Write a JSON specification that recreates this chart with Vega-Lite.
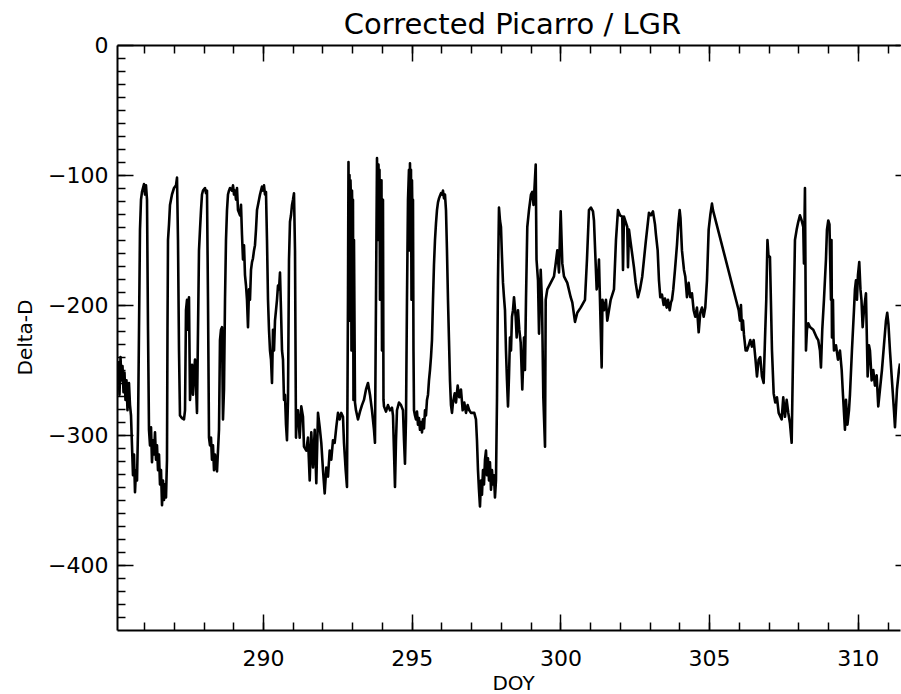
{
  "$schema": "https://vega.github.io/schema/vega-lite/v6.json",
  "width": 783,
  "height": 585,
  "autosize": {"type": "none"},
  "padding": {"left": 117, "top": 45, "right": 1, "bottom": 64},
  "background": "white",
  "title": {"text": "Corrected Picarro / LGR", "font": "DejaVu Sans", "fontSize": 29, "fontWeight": "normal", "color": "black", "anchor": "middle", "frame": "group", "orient": "top", "baseline": "alphabetic", "offset": 8, "dx": 4, "dy": 37},
  "config": {"view": {"stroke": null}, "axis": {"labelFont": "DejaVu Sans", "titleFont": "DejaVu Sans", "labelColor": "black", "titleColor": "black", "tickColor": "black", "domainColor": "black", "grid": false, "labelOverlap": false, "labelFlush": false}},
  "data": {"values": [
{"doy":285.107,"dD":-262},{"doy":285.140,"dD":-244},{"doy":285.174,"dD":-269},{"doy":285.208,"dD":-240},{"doy":285.241,"dD":-258},{"doy":285.275,"dD":-247},{"doy":285.309,"dD":-267},{"doy":285.342,"dD":-252},{"doy":285.376,"dD":-273},{"doy":285.409,"dD":-258},{"doy":285.443,"dD":-281},{"doy":285.460,"dD":-269},{"doy":285.493,"dD":-260},{"doy":285.527,"dD":-277},{"doy":285.561,"dD":-285},{"doy":285.594,"dD":-308},{"doy":285.628,"dD":-331},{"doy":285.662,"dD":-315},{"doy":285.695,"dD":-344},{"doy":285.729,"dD":-327},{"doy":285.763,"dD":-335},{"doy":285.796,"dD":-296},{"doy":285.830,"dD":-219},{"doy":285.863,"dD":-142},{"doy":285.897,"dD":-119},{"doy":285.931,"dD":-113},{"doy":285.964,"dD":-110},{"doy":285.998,"dD":-107},{"doy":286.032,"dD":-115},{"doy":286.065,"dD":-108},{"doy":286.099,"dD":-119},{"doy":286.133,"dD":-219},{"doy":286.166,"dD":-296},
{"doy":286.200,"dD":-308},{"doy":286.234,"dD":-294},{"doy":286.267,"dD":-321},{"doy":286.301,"dD":-304},{"doy":286.334,"dD":-315},{"doy":286.368,"dD":-298},{"doy":286.402,"dD":-319},{"doy":286.435,"dD":-308},{"doy":286.469,"dD":-327},{"doy":286.503,"dD":-315},{"doy":286.536,"dD":-338},{"doy":286.570,"dD":-327},{"doy":286.604,"dD":-354},{"doy":286.637,"dD":-335},{"doy":286.671,"dD":-350},{"doy":286.704,"dD":-338},{"doy":286.738,"dD":-348},{"doy":286.771,"dD":-319},
{"doy":286.788,"dD":-219},{"doy":286.805,"dD":-150},{"doy":286.839,"dD":-138},{"doy":286.872,"dD":-123},{"doy":286.939,"dD":-115},{"doy":287.007,"dD":-110},{"doy":287.074,"dD":-108},{"doy":287.108,"dD":-102},{"doy":287.141,"dD":-150},{"doy":287.175,"dD":-235},{"doy":287.208,"dD":-285},{"doy":287.276,"dD":-287},{"doy":287.343,"dD":-288},{"doy":287.377,"dD":-281},{"doy":287.410,"dD":-204},{"doy":287.444,"dD":-196},{"doy":287.477,"dD":-219},{"doy":287.511,"dD":-194},{"doy":287.545,"dD":-273},{"doy":287.578,"dD":-258},{"doy":287.612,"dD":-246},{"doy":287.646,"dD":-269},{"doy":287.679,"dD":-252},{"doy":287.713,"dD":-242},{"doy":287.747,"dD":-262},{"doy":287.780,"dD":-283},{"doy":287.814,"dD":-219},{"doy":287.847,"dD":-158},{"doy":287.881,"dD":-142},{"doy":287.915,"dD":-127},{"doy":287.948,"dD":-115},{"doy":287.982,"dD":-112},{"doy":288.049,"dD":-110},{"doy":288.083,"dD":-114},{"doy":288.116,"dD":-112},{"doy":288.150,"dD":-196},{"doy":288.184,"dD":-302},
{"doy":288.217,"dD":-308},{"doy":288.251,"dD":-302},{"doy":288.284,"dD":-319},{"doy":288.318,"dD":-308},{"doy":288.352,"dD":-327},{"doy":288.385,"dD":-315},{"doy":288.419,"dD":-323},{"doy":288.453,"dD":-328},{"doy":288.486,"dD":-312},{"doy":288.520,"dD":-296},{"doy":288.553,"dD":-227},{"doy":288.587,"dD":-219},{"doy":288.621,"dD":-217},{"doy":288.654,"dD":-288},{"doy":288.688,"dD":-265},{"doy":288.722,"dD":-196},{"doy":288.755,"dD":-150},{"doy":288.789,"dD":-127},{"doy":288.822,"dD":-115},{"doy":288.856,"dD":-112},{"doy":288.890,"dD":-110},{"doy":288.957,"dD":-112},{"doy":288.991,"dD":-108},{"doy":289.024,"dD":-115},{"doy":289.058,"dD":-112},{"doy":289.092,"dD":-119},{"doy":289.125,"dD":-110},{"doy":289.159,"dD":-127},
{"doy":289.226,"dD":-131},{"doy":289.260,"dD":-123},{"doy":289.293,"dD":-146},{"doy":289.327,"dD":-165},{"doy":289.361,"dD":-154},{"doy":289.394,"dD":-177},{"doy":289.428,"dD":-185},{"doy":289.461,"dD":-196},{"doy":289.495,"dD":-217},{"doy":289.529,"dD":-188},{"doy":289.562,"dD":-196},{"doy":289.596,"dD":-173},{"doy":289.630,"dD":-167},{"doy":289.663,"dD":-164},{"doy":289.697,"dD":-158},{"doy":289.730,"dD":-154},{"doy":289.764,"dD":-142},{"doy":289.798,"dD":-127},{"doy":289.831,"dD":-123},{"doy":289.865,"dD":-119},{"doy":289.899,"dD":-115},{"doy":289.932,"dD":-112},{"doy":289.966,"dD":-109},{"doy":290.000,"dD":-112},{"doy":290.033,"dD":-108},{"doy":290.067,"dD":-115},{"doy":290.100,"dD":-113},{"doy":290.134,"dD":-150},{"doy":290.168,"dD":-196},{"doy":290.201,"dD":-219},{"doy":290.235,"dD":-235},{"doy":290.269,"dD":-242},{"doy":290.302,"dD":-260},{"doy":290.336,"dD":-219},{"doy":290.370,"dD":-235},{"doy":290.403,"dD":-212},{"doy":290.437,"dD":-204},{"doy":290.470,"dD":-196},{"doy":290.504,"dD":-185},{"doy":290.538,"dD":-188},{"doy":290.571,"dD":-175},{"doy":290.605,"dD":-204},{"doy":290.639,"dD":-235},{"doy":290.672,"dD":-242},{"doy":290.706,"dD":-273},{"doy":290.739,"dD":-269},{"doy":290.773,"dD":-292},{"doy":290.806,"dD":-304},{"doy":290.840,"dD":-273},{"doy":290.874,"dD":-165},{"doy":290.907,"dD":-136},{"doy":290.941,"dD":-131},{"doy":290.975,"dD":-123},{"doy":291.008,"dD":-119},{"doy":291.042,"dD":-114},{"doy":291.076,"dD":-158},{"doy":291.109,"dD":-302},
{"doy":291.143,"dD":-281},{"doy":291.176,"dD":-281},{"doy":291.233,"dD":-302},{"doy":291.287,"dD":-278},{"doy":291.344,"dD":-286},{"doy":291.378,"dD":-309},{"doy":291.455,"dD":-312},{"doy":291.512,"dD":-302},{"doy":291.570,"dD":-335},{"doy":291.623,"dD":-298},{"doy":291.681,"dD":-325},{"doy":291.738,"dD":-296},{"doy":291.792,"dD":-337},{"doy":291.849,"dD":-283},{"doy":291.906,"dD":-294},{"doy":291.960,"dD":-306},{"doy":292.017,"dD":-327},{"doy":292.074,"dD":-345},{"doy":292.128,"dD":-325},{"doy":292.185,"dD":-332},{"doy":292.242,"dD":-312},{"doy":292.296,"dD":-319},{"doy":292.353,"dD":-304},{"doy":292.410,"dD":-306},{"doy":292.464,"dD":-294},{"doy":292.521,"dD":-283},{"doy":292.578,"dD":-288},{"doy":292.632,"dD":-283},{"doy":292.689,"dD":-286},{"doy":292.723,"dD":-306},{"doy":292.780,"dD":-327},{"doy":292.824,"dD":-340},
{"doy":292.857,"dD":-196},{"doy":292.874,"dD":-90},{"doy":292.891,"dD":-158},{"doy":292.908,"dD":-100},{"doy":292.925,"dD":-212},{"doy":292.941,"dD":-104},{"doy":292.958,"dD":-119},{"doy":292.975,"dD":-235},{"doy":292.992,"dD":-112},{"doy":293.009,"dD":-135},{"doy":293.025,"dD":-119},{"doy":293.042,"dD":-273},{"doy":293.059,"dD":-150},{"doy":293.093,"dD":-275},{"doy":293.126,"dD":-281},{"doy":293.194,"dD":-288},{"doy":293.261,"dD":-282},{"doy":293.328,"dD":-277},{"doy":293.395,"dD":-273},{"doy":293.463,"dD":-265},{"doy":293.530,"dD":-260},{"doy":293.597,"dD":-269},{"doy":293.664,"dD":-281},{"doy":293.732,"dD":-296},{"doy":293.765,"dD":-306},{"doy":293.799,"dD":-196},{"doy":293.833,"dD":-87},{"doy":293.866,"dD":-150},{"doy":293.883,"dD":-92},{"doy":293.900,"dD":-119},{"doy":293.917,"dD":-96},{"doy":293.933,"dD":-196},{"doy":293.950,"dD":-112},{"doy":293.967,"dD":-158},{"doy":293.984,"dD":-104},{"doy":294.001,"dD":-235},{"doy":294.034,"dD":-119},{"doy":294.051,"dD":-273},{"doy":294.068,"dD":-278},
{"doy":294.135,"dD":-282},{"doy":294.202,"dD":-277},{"doy":294.270,"dD":-281},{"doy":294.337,"dD":-279},{"doy":294.371,"dD":-285},{"doy":294.404,"dD":-312},{"doy":294.438,"dD":-340},{"doy":294.472,"dD":-304},{"doy":294.505,"dD":-281},{"doy":294.572,"dD":-275},{"doy":294.640,"dD":-277},{"doy":294.707,"dD":-281},{"doy":294.741,"dD":-304},{"doy":294.774,"dD":-322},{"doy":294.808,"dD":-288},{"doy":294.841,"dD":-196},{"doy":294.875,"dD":-119},{"doy":294.908,"dD":-96},{"doy":294.925,"dD":-158},{"doy":294.942,"dD":-91},{"doy":294.959,"dD":-127},{"doy":294.976,"dD":-96},{"doy":294.993,"dD":-196},{"doy":295.009,"dD":-104},{"doy":295.026,"dD":-135},{"doy":295.043,"dD":-119},{"doy":295.060,"dD":-235},{"doy":295.077,"dD":-281},
{"doy":295.110,"dD":-285},{"doy":295.144,"dD":-288},{"doy":295.178,"dD":-282},{"doy":295.211,"dD":-292},{"doy":295.245,"dD":-287},{"doy":295.279,"dD":-296},{"doy":295.312,"dD":-290},{"doy":295.346,"dD":-298},{"doy":295.379,"dD":-288},{"doy":295.413,"dD":-295},{"doy":295.447,"dD":-281},{"doy":295.480,"dD":-285},{"doy":295.514,"dD":-273},{"doy":295.548,"dD":-269},{"doy":295.581,"dD":-258},{"doy":295.615,"dD":-250},{"doy":295.649,"dD":-240},{"doy":295.682,"dD":-227},{"doy":295.716,"dD":-196},{"doy":295.749,"dD":-169},{"doy":295.783,"dD":-150},{"doy":295.817,"dD":-137},{"doy":295.850,"dD":-127},{"doy":295.884,"dD":-121},{"doy":295.918,"dD":-118},{"doy":295.951,"dD":-116},{"doy":295.985,"dD":-114},{"doy":296.019,"dD":-115},{"doy":296.052,"dD":-112},{"doy":296.086,"dD":-118},{"doy":296.119,"dD":-115},{"doy":296.153,"dD":-127},{"doy":296.186,"dD":-158},{"doy":296.220,"dD":-196},{"doy":296.254,"dD":-227},{"doy":296.287,"dD":-258},{"doy":296.321,"dD":-277},{"doy":296.355,"dD":-283},
{"doy":296.388,"dD":-275},{"doy":296.445,"dD":-268},{"doy":296.489,"dD":-275},{"doy":296.546,"dD":-262},{"doy":296.600,"dD":-271},{"doy":296.657,"dD":-265},{"doy":296.714,"dD":-281},{"doy":296.768,"dD":-275},{"doy":296.825,"dD":-283},{"doy":296.882,"dD":-277},{"doy":296.936,"dD":-281},{"doy":296.993,"dD":-283},{"doy":297.104,"dD":-283},{"doy":297.161,"dD":-288},{"doy":297.195,"dD":-304},{"doy":297.229,"dD":-327},{"doy":297.262,"dD":-342},{"doy":297.296,"dD":-355},{"doy":297.330,"dD":-335},
{"doy":297.363,"dD":-346},{"doy":297.397,"dD":-327},{"doy":297.431,"dD":-338},{"doy":297.464,"dD":-319},{"doy":297.498,"dD":-312},{"doy":297.531,"dD":-331},{"doy":297.565,"dD":-318},{"doy":297.599,"dD":-335},{"doy":297.632,"dD":-321},{"doy":297.666,"dD":-342},{"doy":297.700,"dD":-327},{"doy":297.733,"dD":-338},{"doy":297.767,"dD":-331},{"doy":297.800,"dD":-348},{"doy":297.834,"dD":-335},
{"doy":297.868,"dD":-273},{"doy":297.901,"dD":-181},{"doy":297.935,"dD":-125},{"doy":297.969,"dD":-135},{"doy":298.002,"dD":-140},{"doy":298.036,"dD":-163},{"doy":298.070,"dD":-183},{"doy":298.103,"dD":-194},{"doy":298.137,"dD":-204},{"doy":298.170,"dD":-235},{"doy":298.204,"dD":-258},{"doy":298.238,"dD":-278},{"doy":298.271,"dD":-255},{"doy":298.305,"dD":-225},{"doy":298.339,"dD":-235},{"doy":298.372,"dD":-209},{"doy":298.406,"dD":-204},{"doy":298.440,"dD":-194},
{"doy":298.496,"dD":-209},{"doy":298.530,"dD":-225},{"doy":298.574,"dD":-204},{"doy":298.618,"dD":-219},{"doy":298.665,"dD":-229},{"doy":298.719,"dD":-265},{"doy":298.776,"dD":-225},{"doy":298.809,"dD":-250},{"doy":298.843,"dD":-196},{"doy":298.887,"dD":-140},{"doy":298.944,"dD":-127},{"doy":299.011,"dD":-115},{"doy":299.055,"dD":-113},{"doy":299.096,"dD":-123},{"doy":299.129,"dD":-110},{"doy":299.170,"dD":-92},{"doy":299.197,"dD":-165},{"doy":299.247,"dD":-181},{"doy":299.281,"dD":-222},{"doy":299.338,"dD":-173},{"doy":299.382,"dD":-198},{"doy":299.426,"dD":-271},{"doy":299.483,"dD":-309},{"doy":299.506,"dD":-196},{"doy":299.560,"dD":-188},
{"doy":299.673,"dD":-183},{"doy":299.785,"dD":-178},{"doy":299.842,"dD":-168},{"doy":299.896,"dD":-158},{"doy":299.953,"dD":-175},{"doy":300.010,"dD":-128},{"doy":300.064,"dD":-168},{"doy":300.121,"dD":-178},{"doy":300.232,"dD":-183},{"doy":300.346,"dD":-194},{"doy":300.400,"dD":-198},{"doy":300.491,"dD":-213},{"doy":300.568,"dD":-206},{"doy":300.682,"dD":-202},{"doy":300.827,"dD":-196},{"doy":300.894,"dD":-165},{"doy":300.961,"dD":-127},{"doy":301.028,"dD":-125},{"doy":301.096,"dD":-128},{"doy":301.129,"dD":-135},{"doy":301.220,"dD":-188},{"doy":301.264,"dD":-181},{"doy":301.297,"dD":-165},{"doy":301.331,"dD":-196},{"doy":301.388,"dD":-248},{"doy":301.415,"dD":-196},{"doy":301.466,"dD":-204},{"doy":301.533,"dD":-196},{"doy":301.577,"dD":-212},{"doy":301.691,"dD":-196},{"doy":301.802,"dD":-188},
{"doy":301.869,"dD":-150},{"doy":301.937,"dD":-127},{"doy":302.004,"dD":-131},{"doy":302.081,"dD":-132},{"doy":302.105,"dD":-173},{"doy":302.138,"dD":-132},{"doy":302.249,"dD":-140},{"doy":302.273,"dD":-171},{"doy":302.306,"dD":-142},{"doy":302.363,"dD":-152},{"doy":302.474,"dD":-171},{"doy":302.531,"dD":-183},{"doy":302.609,"dD":-194},{"doy":302.676,"dD":-188},{"doy":302.753,"dD":-178},{"doy":302.868,"dD":-152},{"doy":302.979,"dD":-129},
{"doy":303.046,"dD":-131},{"doy":303.113,"dD":-128},{"doy":303.181,"dD":-138},{"doy":303.214,"dD":-146},{"doy":303.271,"dD":-158},{"doy":303.315,"dD":-181},{"doy":303.359,"dD":-194},{"doy":303.416,"dD":-192},{"doy":303.473,"dD":-200},{"doy":303.517,"dD":-195},{"doy":303.574,"dD":-202},{"doy":303.618,"dD":-196},{"doy":303.675,"dD":-204},{"doy":303.719,"dD":-198},{"doy":303.752,"dD":-196},{"doy":303.796,"dD":-188},{"doy":303.853,"dD":-173},{"doy":303.920,"dD":-154},{"doy":303.964,"dD":-138},{"doy":304.011,"dD":-127},{"doy":304.038,"dD":-133},{"doy":304.088,"dD":-158},{"doy":304.156,"dD":-173},{"doy":304.200,"dD":-178},{"doy":304.256,"dD":-194},{"doy":304.313,"dD":-183},{"doy":304.367,"dD":-194},{"doy":304.424,"dD":-191},{"doy":304.481,"dD":-204},{"doy":304.535,"dD":-209},{"doy":304.593,"dD":-202},{"doy":304.650,"dD":-221},{"doy":304.703,"dD":-206},{"doy":304.760,"dD":-202},{"doy":304.818,"dD":-209},{"doy":304.872,"dD":-202},{"doy":304.929,"dD":-181},{"doy":304.986,"dD":-142},{"doy":305.040,"dD":-131},{"doy":305.097,"dD":-122},{"doy":305.131,"dD":-127},
{"doy":305.995,"dD":-204},{"doy":306.039,"dD":-212},{"doy":306.072,"dD":-200},{"doy":306.106,"dD":-219},{"doy":306.140,"dD":-212},{"doy":306.173,"dD":-223},{"doy":306.230,"dD":-235},{"doy":306.274,"dD":-235},{"doy":306.331,"dD":-231},{"doy":306.385,"dD":-227},{"doy":306.442,"dD":-232},{"doy":306.499,"dD":-227},{"doy":306.553,"dD":-240},{"doy":306.610,"dD":-255},{"doy":306.667,"dD":-242},{"doy":306.721,"dD":-240},{"doy":306.778,"dD":-255},{"doy":306.835,"dD":-260},{"doy":306.879,"dD":-227},{"doy":306.923,"dD":-196},{"doy":306.963,"dD":-150},{"doy":306.997,"dD":-162},{"doy":307.047,"dD":-163},{"doy":307.115,"dD":-235},{"doy":307.172,"dD":-268},{"doy":307.226,"dD":-275},{"doy":307.283,"dD":-271},{"doy":307.340,"dD":-283},
{"doy":307.441,"dD":-288},{"doy":307.494,"dD":-271},{"doy":307.552,"dD":-286},{"doy":307.609,"dD":-273},{"doy":307.663,"dD":-283},{"doy":307.720,"dD":-291},{"doy":307.777,"dD":-306},{"doy":307.831,"dD":-227},{"doy":307.888,"dD":-150},{"doy":307.945,"dD":-142},{"doy":307.999,"dD":-136},{"doy":308.056,"dD":-131},{"doy":308.113,"dD":-135},{"doy":308.167,"dD":-140},{"doy":308.190,"dD":-168},{"doy":308.224,"dD":-110},{"doy":308.258,"dD":-235},{"doy":308.291,"dD":-219},{"doy":308.335,"dD":-214},{"doy":308.392,"dD":-217},{"doy":308.503,"dD":-219},{"doy":308.617,"dD":-225},{"doy":308.671,"dD":-227},{"doy":308.728,"dD":-235},{"doy":308.762,"dD":-248},{"doy":308.806,"dD":-219},{"doy":308.863,"dD":-196},{"doy":308.930,"dD":-165},{"doy":308.964,"dD":-142},{"doy":309.008,"dD":-135},{"doy":309.048,"dD":-138},{"doy":309.065,"dD":-158},{"doy":309.099,"dD":-196},{"doy":309.116,"dD":-150},{"doy":309.132,"dD":-225},{"doy":309.166,"dD":-196},{"doy":309.183,"dD":-225},{"doy":309.200,"dD":-235},{"doy":309.267,"dD":-231},{"doy":309.334,"dD":-242},{"doy":309.401,"dD":-235},{"doy":309.459,"dD":-250},{"doy":309.502,"dD":-269},{"doy":309.569,"dD":-296},{"doy":309.603,"dD":-273},{"doy":309.653,"dD":-292},{"doy":309.704,"dD":-281},{"doy":309.737,"dD":-269},{"doy":309.804,"dD":-235},{"doy":309.872,"dD":-204},{"doy":309.905,"dD":-188},{"doy":309.939,"dD":-181},{"doy":309.973,"dD":-196},{"doy":310.006,"dD":-177},{"doy":310.050,"dD":-167},{"doy":310.090,"dD":-188},{"doy":310.124,"dD":-196},{"doy":310.164,"dD":-217},{"doy":310.208,"dD":-204},{"doy":310.275,"dD":-191},{"doy":310.332,"dD":-255},{"doy":310.376,"dD":-231},{"doy":310.410,"dD":-235},{"doy":310.467,"dD":-258},{"doy":310.521,"dD":-250},{"doy":310.578,"dD":-262},{"doy":310.635,"dD":-254},{"doy":310.689,"dD":-278},{"doy":310.746,"dD":-265},{"doy":310.813,"dD":-250},{"doy":310.880,"dD":-231},{"doy":310.948,"dD":-212},{"doy":310.991,"dD":-206},{"doy":311.032,"dD":-215},{"doy":311.082,"dD":-235},{"doy":311.149,"dD":-258},{"doy":311.217,"dD":-281},{"doy":311.251,"dD":-294},{"doy":311.318,"dD":-265},{"doy":311.385,"dD":-250},{"doy":311.420,"dD":-245}
  ]},
  "resolve": {"axis": {"x": "independent", "y": "independent"}},
  "layer": [
    {
      "mark": {"type": "line", "color": "black", "strokeWidth": 2.6, "strokeJoin": "round", "clip": true},
      "encoding": {
        "x": {"field": "doy", "type": "quantitative", "scale": {"domain": [285.09, 311.42], "nice": false, "zero": false},
          "axis": {"orient": "bottom", "values": [290, 295, 300, 305, 310], "tickSize": -16, "tickWidth": 1.5, "labelPadding": 34, "labelFontSize": 22, "domain": true, "domainWidth": 2, "title": "DOY", "titleFontSize": 20, "titleFontWeight": "normal", "titleX": 396, "titleY": 53, "titleAlign": "center", "titleBaseline": "middle"}},
        "y": {"field": "dD", "type": "quantitative", "scale": {"domain": [-450, 0], "nice": false, "zero": false},
          "axis": {"orient": "left", "values": [-400, -300, -200, -100, 0], "tickSize": -16, "tickWidth": 1.5, "labelPadding": 25, "labelFontSize": 22, "domain": true, "domainWidth": 2, "title": "Delta-D", "titleFontSize": 20, "titleFontWeight": "normal", "titleAngle": -90, "titleX": -92, "titleY": 292, "titleAlign": "center", "titleBaseline": "middle"}}
      }
    },
    {
      "mark": {"type": "line", "strokeOpacity": 0},
      "encoding": {
        "x": {"field": "doy", "type": "quantitative", "scale": {"domain": [285.09, 311.42], "nice": false, "zero": false},
          "axis": {"orient": "bottom", "values": [286,287,288,289,290,291,292,293,294,295,296,297,298,299,300,301,302,303,304,305,306,307,308,309,310,311], "tickSize": -8, "tickWidth": 1.5, "labels": false, "domain": false, "title": null, "minExtent": 0}},
        "y": {"field": "dD", "type": "quantitative", "scale": {"domain": [-450, 0], "nice": false, "zero": false},
          "axis": {"orient": "left", "values": [-440,-430,-420,-410,-400,-390,-380,-370,-360,-350,-340,-330,-320,-310,-300,-290,-280,-270,-260,-250,-240,-230,-220,-210,-200,-190,-180,-170,-160,-150,-140,-130,-120,-110,-100,-90,-80,-70,-60,-50,-40,-30,-20,-10], "tickSize": -8, "tickWidth": 1.5, "labels": false, "domain": false, "title": null, "minExtent": 0}}
      }
    },
    {
      "mark": {"type": "line", "strokeOpacity": 0},
      "encoding": {
        "x": {"field": "doy", "type": "quantitative", "scale": {"domain": [285.09, 311.42], "nice": false, "zero": false},
          "axis": {"orient": "top", "values": [290, 295, 300, 305, 310], "tickSize": -16, "tickWidth": 1.5, "labels": false, "domain": true, "domainWidth": 2, "title": null, "minExtent": 0}},
        "y": {"field": "dD", "type": "quantitative", "scale": {"domain": [-450, 0], "nice": false, "zero": false},
          "axis": {"orient": "right", "offset": 11, "values": [-400, -300, -200, -100, 0], "tickSize": -16, "tickWidth": 1.5, "labels": false, "domain": true, "domainWidth": 2, "title": null, "minExtent": 0}}
      }
    },
    {
      "mark": {"type": "line", "strokeOpacity": 0},
      "encoding": {
        "x": {"field": "doy", "type": "quantitative", "scale": {"domain": [285.09, 311.42], "nice": false, "zero": false},
          "axis": {"orient": "top", "values": [286,287,288,289,290,291,292,293,294,295,296,297,298,299,300,301,302,303,304,305,306,307,308,309,310,311], "tickSize": -8, "tickWidth": 1.5, "labels": false, "domain": false, "title": null, "minExtent": 0}},
        "y": {"field": "dD", "type": "quantitative", "scale": {"domain": [-450, 0], "nice": false, "zero": false},
          "axis": {"orient": "right", "offset": 11, "values": [-440,-430,-420,-410,-400,-390,-380,-370,-360,-350,-340,-330,-320,-310,-300,-290,-280,-270,-260,-250,-240,-230,-220,-210,-200,-190,-180,-170,-160,-150,-140,-130,-120,-110,-100,-90,-80,-70,-60,-50,-40,-30,-20,-10], "tickSize": -8, "tickWidth": 1.5, "labels": false, "domain": false, "title": null, "minExtent": 0}}
      }
    }
  ]
}
